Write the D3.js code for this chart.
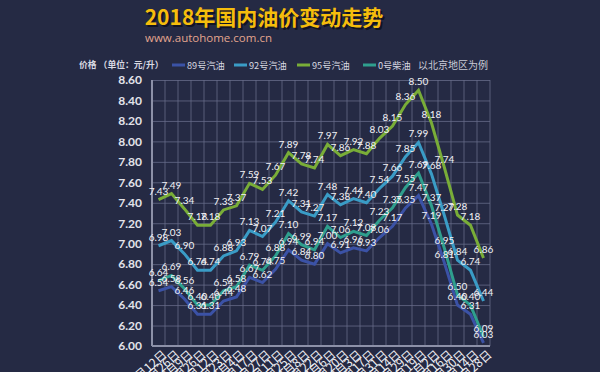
<!DOCTYPE html>
<html>
<head>
<meta charset="utf-8">
<script src="https://cdn.jsdelivr.net/npm/d3@7"></script>
<style>
  html, body { margin: 0; padding: 0; background: #252a44; }
  svg { display: block; }
</style>
</head>
<body>
<div id="chart"></div>
<script>
var dates = ["1月12日","1月26日","2月9日","2月26日","3月12日","3月23日","4月4日","4月17日","4月27日","5月11日","5月25日","6月8日","6月22日","7月6日","7月20日","8月3日","8月17日","8月31日","9月14日","9月29日","10月19日","11月2日","11月16日","11月30日","12月14日","12月28日"];

var gas89 = [6.54,6.58,6.46,6.31,6.31,6.44,6.48,6.67,6.62,6.75,6.94,6.84,6.80,7.00,6.91,6.96,6.93,7.06,7.17,7.35,7.47,7.19,6.81,6.40,6.31,6.03];
var gas92 = [6.98,7.03,6.90,6.74,6.74,6.88,6.93,7.13,7.07,7.21,7.42,7.31,7.27,7.48,7.38,7.44,7.40,7.54,7.66,7.85,7.99,7.68,7.27,6.84,6.74,6.44];
var gas95 = [7.43,7.49,7.34,7.18,7.18,7.33,7.37,7.59,7.53,7.67,7.89,7.78,7.74,7.97,7.86,7.92,7.88,8.03,8.15,8.36,8.50,8.18,7.74,7.28,7.18,6.86];
var diesel0 = [6.64,6.69,6.56,6.40,6.40,6.54,6.58,6.79,6.74,6.88,7.10,6.99,6.94,7.17,7.06,7.12,7.08,7.23,7.35,7.55,7.69,7.37,6.95,6.50,6.40,6.09];

var seriesNames = ["89号汽油","92号汽油","95号汽油","0号柴油"];
var yTicks = [6.00,6.20,6.40,6.60,6.80,7.00,7.20,7.40,7.60,7.80,8.00,8.20,8.40,8.60];

var series = [
  { name: seriesNames[0], values: gas89, color: "#3b52a6" },
  { name: seriesNames[1], values: gas92, color: "#3a9cc6" },
  { name: seriesNames[2], values: gas95, color: "#79ad38" },
  { name: seriesNames[3], values: diesel0, color: "#2f9f8e" }
];

var W = 600, H = 372;
var margin = { top: 80, right: 110, bottom: 26, left: 152 };
var width = W - margin.left - margin.right;
var height = H - margin.top - margin.bottom;

var svg = d3.select("#chart").append("svg").attr("width", W).attr("height", H);
svg.append("rect").attr("width", W).attr("height", H).attr("fill", "#252a44");

// title
var title = "2018年国内油价变动走势";
svg.append("text").attr("x", 264).attr("y", 25).attr("text-anchor", "middle")
  .attr("font-family", "Noto Sans CJK SC").attr("font-weight", "bold").attr("font-size", 21)
  .attr("fill", "#0d0f1c").attr("opacity", 0.8).attr("transform", "translate(2,2)").text(title);
svg.append("text").attr("x", 264).attr("y", 25).attr("text-anchor", "middle")
  .attr("font-family", "Noto Sans CJK SC").attr("font-weight", "bold").attr("font-size", 21)
  .attr("fill", "#f5bd0c").text(title);
svg.append("text").attr("x", 145).attr("y", 42)
  .attr("font-family", "Open Sans").attr("font-size", 11.5)
  .attr("fill", "#e3a58e").text("www.autohome.com.cn");

var g = svg.append("g").attr("transform", "translate(" + margin.left + "," + margin.top + ")");

var x = d3.scaleBand().domain(dates).range([0, width]).padding(0);
var y = d3.scaleLinear().domain([6, 8.6]).range([height, 0]);

// grid
g.append("g")
  .call(d3.axisLeft(y).tickValues(yTicks).tickSize(-width).tickFormat(""))
  .call(function (s) { s.select(".domain").remove(); })
  .selectAll("line").attr("stroke", "#6a6f8c").attr("stroke-opacity", 0.75);

g.append("g").selectAll("line")
  .data(dates.concat(["end"]))
  .enter().append("line")
  .attr("x1", function (d, i) { return i < dates.length ? x(d) : width; })
  .attr("x2", function (d, i) { return i < dates.length ? x(d) : width; })
  .attr("y1", 0).attr("y2", height)
  .attr("stroke", "#6a6f8c").attr("stroke-opacity", 0.75);

// axis lines
g.append("line").attr("x1", 0).attr("x2", 0).attr("y1", 0).attr("y2", height)
  .attr("stroke", "#8d91a8").attr("stroke-width", 2);
g.append("line").attr("x1", 0).attr("x2", width).attr("y1", height).attr("y2", height)
  .attr("stroke", "#8d91a8").attr("stroke-width", 2);

// y axis labels
g.append("g")
  .call(d3.axisLeft(y).tickValues(yTicks).tickSize(0).tickPadding(10).tickFormat(d3.format(".2f")))
  .call(function (s) { s.select(".domain").remove(); })
  .selectAll("text")
  .attr("fill", "#e2e3ea").attr("font-size", 12).attr("font-weight", "bold")
  .attr("font-family", "Lato");

// x axis labels
g.append("g")
  .attr("transform", "translate(0," + (height + 5) + ")")
  .call(d3.axisBottom(x).tickSize(0).tickPadding(0))
  .call(function (s) { s.select(".domain").remove(); })
  .selectAll("text")
  .attr("fill", "#f0f0f4").attr("font-size", 12).attr("font-family", "Noto Sans CJK SC")
  .attr("text-anchor", "end").attr("dy", "0.8em").attr("dx", "0.3em")
  .attr("transform", "rotate(-42)");

// lines
var line = d3.line()
  .x(function (d, i) { return x(dates[i]) + x.bandwidth() / 2; })
  .y(function (d) { return y(d); });

g.selectAll(".series").data(series).enter().append("path")
  .attr("class", "series")
  .attr("fill", "none")
  .attr("stroke", function (d) { return d.color; })
  .attr("stroke-width", 3)
  .attr("stroke-linejoin", "miter")
  .attr("d", function (d) { return line(d.values); });

// value labels
series.forEach(function (s) {
  g.append("g").selectAll("text").data(s.values).enter().append("text")
    .attr("x", function (d, i) { return x(dates[i]) + x.bandwidth() / 2; })
    .attr("y", function (d) { return y(d) - 5; })
    .attr("text-anchor", "middle")
    .attr("font-family", "Lato").attr("font-size", 10)
    .attr("fill", "#f2f2f6")
    .text(function (d) { return d3.format(".2f")(d); });
});

// legend
svg.append("text").attr("x", 79).attr("y", 68)
  .attr("font-family", "Noto Sans CJK SC").attr("font-weight", "bold").attr("font-size", 8.8)
  .attr("fill", "#d8d9e2").text("价格 （单位：元/升）");

var legendX = [172, 234, 297, 363];
series.forEach(function (s, i) {
  svg.append("line").attr("x1", legendX[i]).attr("x2", legendX[i] + 13)
    .attr("y1", 65).attr("y2", 65).attr("stroke", s.color).attr("stroke-width", 3);
  svg.append("text").attr("x", legendX[i] + 15).attr("y", 68.5)
    .attr("font-family", "Noto Sans CJK SC").attr("font-size", 9.2)
    .attr("fill", "#d8d9e2").text(s.name);
});
svg.append("text").attr("x", 418).attr("y", 69)
  .attr("font-family", "Noto Sans CJK SC").attr("font-size", 10)
  .attr("fill", "#c9cad6").text("以北京地区为例");
</script>
</body>
</html>
